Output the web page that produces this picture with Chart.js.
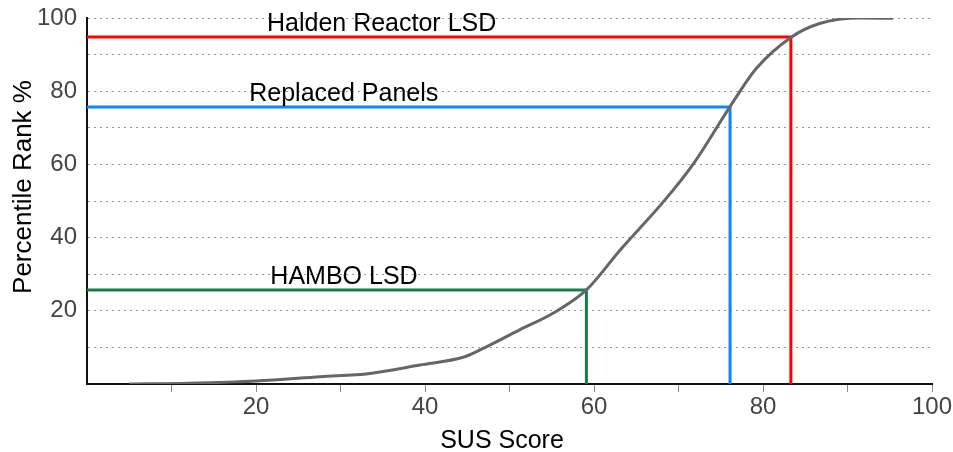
<!DOCTYPE html>
<html>
<head>
<meta charset="utf-8">
<script src="https://cdn.jsdelivr.net/npm/chart.js@4"></script>
<style>
html,body{margin:0;padding:0;background:#fff;}
#wrap{width:953px;height:452px;position:relative;}
</style>
</head>
<body>
<div id="wrap"><canvas id="c" width="953" height="452"></canvas></div>
<script>
// Curve data
const susScore = [5, 12, 20, 27.6, 33.5, 39.4, 44.5, 46.5, 51.2, 55.2, 59.1, 63.1, 68.4, 71.8, 76.1, 79.2, 83.3, 86.7, 91.5, 95.4];
const percentileRank = [0, 0.2, 0.8, 2.0, 2.9, 5.2, 7.3, 9.3, 14.8, 19.4, 25.7, 36.6, 50.3, 60.3, 75.8, 86.2, 94.7, 98.5, 100, 99.9];

// Reference markers
const markerNames = ["Halden Reactor LSD", "Replaced Panels", "HAMBO LSD"];
const markerScores = [83.3, 76.1, 59.1];
const markerRanks = [94.8, 75.7, 25.7];
const markerColors = ["#ff0000", "#0a84ff", "#13804a"];

// Axis tick labels and titles
const xTickLabels = [20, 40, 60, 80, 100];
const yTickLabels = [20, 40, 60, 80, 100];
const xTitle = "SUS Score";
const yTitle = "Percentile Rank %";

const FONT = "'Liberation Sans', Arial, Helvetica, sans-serif";

const markerDatasets = markerNames.map((name, i) => ({
  label: name,
  data: [
    {x: 0, y: markerRanks[i]},
    {x: markerScores[i], y: markerRanks[i]},
    {x: markerScores[i], y: 0}
  ],
  showLine: true,
  borderColor: markerColors[i],
  borderWidth: 3,
  pointRadius: 0,
  tension: 0,
  order: 2
}));

const labelPlugin = {
  id: 'markerLabels',
  afterDatasetsDraw(chart, args, opts) {
    const ctx = chart.ctx;
    const xs = chart.scales.x, ys = chart.scales.y;
    ctx.save();
    ctx.font = "25px " + FONT;
    ctx.fillStyle = "#000";
    ctx.textAlign = "left";
    ctx.textBaseline = "alphabetic";
    markerNames.forEach((name, i) => {
      const px = xs.getPixelForValue(opts.textX[i]);
      const py = ys.getPixelForValue(markerRanks[i]) - opts.gap;
      ctx.fillText(name, px, py);
    });
    // axis titles
    ctx.textAlign = "center";
    ctx.font = "25px " + FONT;
    ctx.fillText(xTitle, opts.xTitlePos[0], opts.xTitlePos[1]);
    ctx.save();
    ctx.translate(opts.yTitlePos[0], opts.yTitlePos[1]);
    ctx.rotate(-Math.PI / 2);
    ctx.font = "26px " + FONT;
    ctx.fillText(yTitle, 0, 0);
    ctx.restore();
    ctx.restore();
  }
};

new Chart(document.getElementById('c'), {
  type: 'scatter',
  data: {
    datasets: [
      {
        label: 'SUS curve',
        data: susScore.map((x, i) => ({x, y: percentileRank[i]})),
        showLine: true,
        borderColor: '#666666',
        borderWidth: 3,
        pointRadius: 0,
        cubicInterpolationMode: 'monotone',
        order: 1
      },
      ...markerDatasets
    ]
  },
  options: {
    responsive: false,
    animation: false,
    layout: {padding: {top: 18, right: 21, left: 0, bottom: 0}},
    plugins: {
      legend: {display: false},
      tooltip: {enabled: false},
      markerLabels: {textX: [21.3, 19.2, 21.7], gap: 6, xTitlePos: [502, 448], yTitlePos: [31, 187]}
    },
    scales: {
      x: {
        type: 'linear',
        min: 0, max: 100,
        afterFit: s => { s.height = 68; s.paddingLeft = 0; s.paddingRight = 0; },
        ticks: {
          stepSize: 10,
          autoSkip: false,
          maxRotation: 0,
          padding: 1,
          color: '#444',
          font: {family: FONT, size: 24},
          callback: v => xTickLabels.includes(v) ? String(v) : ''
        },
        grid: {
          drawOnChartArea: false,
          drawTicks: true,
          tickLength: 8,
          tickColor: ctx => ctx.tick && ctx.tick.value === 0 ? 'rgba(0,0,0,0)' : '#888',
          tickWidth: 1
        },
        border: {display: true, color: '#111', width: 2}
      },
      y: {
        type: 'linear',
        min: 0, max: 100,
        afterFit: s => { s.width = 87; s.paddingTop = 0; s.paddingBottom = 0; },
        ticks: {
          stepSize: 10,
          autoSkip: false,
          padding: 10,
          color: '#444',
          font: {family: FONT, size: 24},
          callback: v => yTickLabels.includes(v) ? String(v) : ''
        },
        grid: {
          drawTicks: false,
          color: ctx => ctx.tick && ctx.tick.value === 0 ? 'rgba(0,0,0,0)' : '#999',
          lineWidth: 1
        },
        border: {display: true, color: '#111', width: 2, dash: [2, 4]}
      }
    }
  },
  plugins: [labelPlugin]
});
</script>
</body>
</html>
